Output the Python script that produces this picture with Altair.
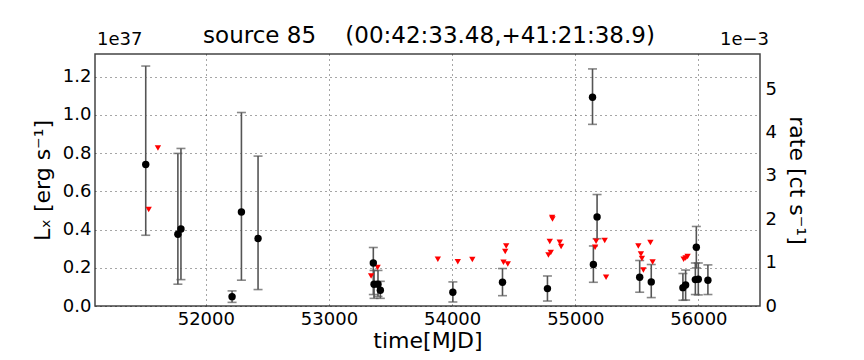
import altair as alt
import pandas as pd

# detections: time (MJD), luminosity (1e37 erg/s), error-bar low / high
det_mjd = [51512, 51773, 51798, 52213, 52289, 52424, 53360, 53366, 53398, 53417,
           54006, 54409, 54774, 55140, 55147, 55177, 55523, 55617, 55874, 55896,
           55975, 55983, 55999, 56077]
det_L = [0.740, 0.375, 0.403, 0.049, 0.492, 0.353, 0.225, 0.114, 0.114, 0.082,
         0.072, 0.124, 0.091, 1.092, 0.217, 0.466, 0.150, 0.126, 0.096, 0.110,
         0.138, 0.307, 0.140, 0.135]
det_lo = [0.370, 0.114, 0.138, 0.019, 0.135, 0.086, 0.060, 0.040, 0.050, 0.040,
          0.021, 0.054, 0.026, 0.950, 0.124, 0.352, 0.072, 0.044, 0.030, 0.031,
          0.060, 0.199, 0.058, 0.060]
det_hi = [1.255, 0.798, 0.824, 0.079, 1.012, 0.784, 0.306, 0.186, 0.186, 0.129,
          0.126, 0.196, 0.157, 1.240, 0.314, 0.583, 0.238, 0.217, 0.170, 0.188,
          0.225, 0.416, 0.225, 0.215]

# upper limits
ul_mjd = [51536, 51611, 53342, 53395, 53884, 54046, 54164, 54417, 54431, 54439,
          54452, 54782, 54793, 54801, 54812, 54815, 54874, 54885, 55161, 55169,
          55239, 55250, 55512, 55533, 55541, 55553, 55610, 55628, 55880, 55896,
          55912]
ul_L = [0.505, 0.826, 0.157, 0.201, 0.245, 0.232, 0.243, 0.229, 0.285, 0.314,
        0.220, 0.267, 0.337, 0.280, 0.463, 0.455, 0.333, 0.311, 0.307, 0.339,
        0.342, 0.150, 0.314, 0.272, 0.248, 0.188, 0.332, 0.230, 0.245, 0.251,
        0.259]

x_ticks = [52000, 53000, 54000, 55000, 56000]
y_ticks = [0.0, 0.2, 0.4, 0.6, 0.8, 1.0, 1.2]
rate_ticks = [0, 1, 2, 3, 4, 5]

title_text = "source 85\u00a0\u00a0\u00a0\u00a0(00:42:33.48,+41:21:38.9)"

det = pd.DataFrame({"mjd": det_mjd, "L": det_L, "lo": det_lo, "hi": det_hi})
ul = pd.DataFrame({"mjd": ul_mjd, "L": ul_L})

xscale = alt.Scale(domain=[51100, 56500], nice=False, zero=False)
yscale = alt.Scale(domain=[0, 1.318], nice=False, zero=False)
xaxis = alt.Axis(values=x_ticks, format="d", title="time[MJD]", grid=True,
                 labelPadding=4, titlePadding=2)
yaxis = alt.Axis(values=y_ticks, format=".1f", title="Lₓ [erg s⁻¹]", grid=True,
                 labelPadding=4, titlePadding=8)

X = alt.X("mjd:Q", scale=xscale, axis=xaxis)

def Y(field):
    return alt.Y(field, type="quantitative", scale=yscale, axis=yaxis)

ecol = "#555555"
bars = alt.Chart(det).mark_rule(color=ecol, strokeWidth=1.6).encode(
    x=X, y=Y("lo"), y2="hi")
cap_lo = alt.Chart(det).mark_tick(color=ecol, orient="horizontal", size=9,
                                  thickness=1.6).encode(x=X, y=Y("lo"))
cap_hi = alt.Chart(det).mark_tick(color=ecol, orient="horizontal", size=9,
                                  thickness=1.6).encode(x=X, y=Y("hi"))
pts = alt.Chart(det).mark_point(filled=True, color="black", size=55,
                                opacity=1).encode(x=X, y=Y("L"))
tri = alt.Chart(ul).mark_point(shape="triangle-down", filled=True, color="red",
                               size=40, opacity=1).encode(x=X, y=Y("L"))

off_l = alt.Chart(pd.DataFrame({"t": ["1e37"]})).mark_text(
    align="left", baseline="bottom", fontSize=18, font="DejaVu Sans",
    color="black").encode(x=alt.value(2), y=alt.value(-5), text="t:N")
off_r = alt.Chart(pd.DataFrame({"t": ["1e\u22123"]})).mark_text(
    align="right", baseline="bottom", fontSize=18, font="DejaVu Sans",
    color="black").encode(x=alt.value(674), y=alt.value(-5), text="t:N")
ttl = alt.Chart(pd.DataFrame({"t": [title_text]})).mark_text(
    align="center", baseline="bottom", fontSize=23, font="DejaVu Sans",
    color="black").encode(x=alt.value(334), y=alt.value(-6), text="t:N")

left = alt.layer(bars, cap_lo, cap_hi, tri, pts, off_l, off_r, ttl)

right = alt.Chart(pd.DataFrame({"r": [0, 5]})).mark_point(opacity=0).encode(
    y=alt.Y("r:Q", scale=alt.Scale(domain=[0, 5.81], nice=False, zero=False),
            axis=alt.Axis(orient="right", values=rate_ticks, format="d",
                          title="rate [ct s⁻¹]", grid=False,
                          labelPadding=5, titlePadding=8)))

chart = alt.layer(left, right).resolve_scale(y="independent").properties(
    width=665, height=252,
    autosize=alt.AutoSizeParams(type="none"),
    padding={"left": 87, "top": 46, "right": 96, "bottom": 46},
).configure_view(stroke="#444444", strokeWidth=1.5).configure_axis(
    labelFont="DejaVu Sans", titleFont="DejaVu Sans", labelFontSize=18,
    titleFontSize=22, titleFontWeight="normal", labelColor="black",
    titleColor="black", domain=False, ticks=False, gridColor="black",
    gridDash=[1, 4], gridOpacity=0.7, gridWidth=1)

chart.save("out.html", embed_options={"renderer": "svg", "actions": False})
